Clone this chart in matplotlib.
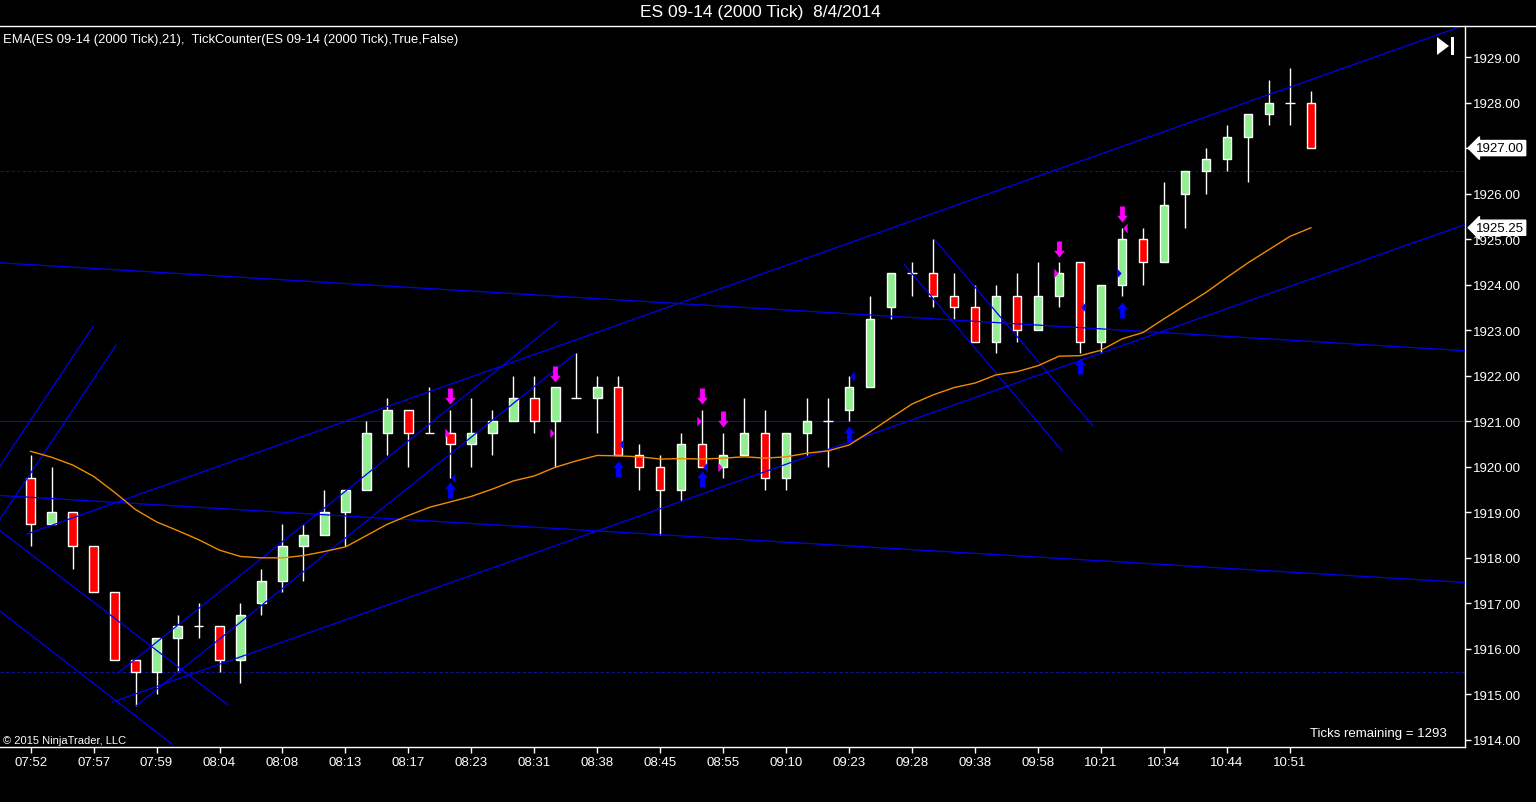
import matplotlib
matplotlib.use("Agg")
import matplotlib.pyplot as plt
import numpy as np
from matplotlib.path import Path
from matplotlib.lines import Line2D
from matplotlib.patches import Polygon, Rectangle
from matplotlib.transforms import blended_transform_factory

plt.rcParams["font.family"] = ["Liberation Sans", "DejaVu Sans"]

# --- data (bar index = 0..61) ---
opens = [1919.75, 1918.75, 1919.0, 1918.25, 1917.25, 1915.75, 1915.5, 1916.25, 1916.5, 1916.5,
         1915.75, 1917.0, 1917.5, 1918.25, 1918.5, 1919.0, 1919.5, 1920.75, 1921.25, 1920.75,
         1920.75, 1920.5, 1920.75, 1921.0, 1921.5, 1921.0, 1921.5, 1921.5, 1921.75, 1920.25,
         1920.0, 1919.5, 1920.5, 1920.0, 1920.25, 1920.75, 1919.75, 1920.75, 1921.0, 1921.25,
         1921.75, 1923.5, 1924.25, 1924.25, 1923.75, 1923.5, 1922.75, 1923.75, 1923.0, 1923.75,
         1924.5, 1922.75, 1924.0, 1925.0, 1924.5, 1926.0, 1926.5, 1926.75, 1927.25, 1927.75,
         1928.0, 1928.0]
highs = [1920.25, 1920.0, 1919.0, 1918.25, 1917.25, 1915.75, 1916.25, 1916.75, 1917.0, 1916.5,
         1917.0, 1917.75, 1918.75, 1918.75, 1919.5, 1919.5, 1921.0, 1921.5, 1921.25, 1921.75,
         1921.25, 1921.5, 1921.25, 1922.0, 1922.0, 1921.75, 1922.5, 1922.0, 1922.0, 1920.5,
         1920.25, 1920.75, 1921.25, 1920.75, 1921.5, 1921.25, 1920.75, 1921.5, 1921.5, 1922.0,
         1923.75, 1924.25, 1924.5, 1925.0, 1924.25, 1924.0, 1924.0, 1924.25, 1924.5, 1924.5,
         1924.5, 1924.0, 1925.25, 1925.25, 1926.25, 1926.5, 1927.0, 1927.5, 1927.75, 1928.5,
         1928.75, 1928.25]
lows = [1918.25, 1918.75, 1917.75, 1917.25, 1915.75, 1914.75, 1915.0, 1915.5, 1916.25, 1915.5,
        1915.25, 1916.75, 1917.25, 1917.5, 1918.5, 1918.25, 1919.5, 1920.25, 1920.0, 1920.75,
        1919.75, 1920.0, 1920.25, 1921.0, 1920.75, 1920.0, 1921.5, 1920.75, 1920.25, 1919.5,
        1918.5, 1919.25, 1920.0, 1919.75, 1920.25, 1919.5, 1919.5, 1920.25, 1920.0, 1921.0,
        1921.75, 1923.25, 1923.75, 1923.5, 1923.25, 1922.75, 1922.5, 1922.75, 1923.0, 1923.5,
        1922.5, 1922.5, 1923.75, 1924.0, 1924.5, 1925.25, 1926.0, 1926.5, 1926.25, 1927.5,
        1927.5, 1927.0]
closes = [1918.75, 1919.0, 1918.25, 1917.25, 1915.75, 1915.5, 1916.25, 1916.5, 1916.5, 1915.75,
          1916.75, 1917.5, 1918.25, 1918.5, 1919.0, 1919.5, 1920.75, 1921.25, 1920.75, 1920.75,
          1920.5, 1920.75, 1921.0, 1921.5, 1921.0, 1921.75, 1921.5, 1921.75, 1920.25, 1920.0,
          1919.5, 1920.5, 1920.0, 1920.25, 1920.75, 1919.75, 1920.75, 1921.0, 1921.0, 1921.75,
          1923.25, 1924.25, 1924.25, 1923.75, 1923.5, 1922.75, 1923.75, 1923.0, 1923.75, 1924.25,
          1922.75, 1924.0, 1925.0, 1924.5, 1925.75, 1926.5, 1926.75, 1927.25, 1927.75, 1928.0,
          1928.0, 1927.0]
ema21 = [1920.34, 1920.21, 1920.04, 1919.79, 1919.44, 1919.06, 1918.79, 1918.60, 1918.40, 1918.17,
         1918.03, 1918.00, 1918.00, 1918.05, 1918.14, 1918.24, 1918.49, 1918.74, 1918.93, 1919.11,
         1919.23, 1919.35, 1919.51, 1919.69, 1919.80, 1919.99, 1920.13, 1920.25, 1920.24, 1920.22,
         1920.17, 1920.18, 1920.17, 1920.19, 1920.22, 1920.19, 1920.22, 1920.30, 1920.35, 1920.48,
         1920.77, 1921.08, 1921.38, 1921.58, 1921.74, 1921.84, 1922.02, 1922.09, 1922.22, 1922.43,
         1922.44, 1922.56, 1922.81, 1922.95, 1923.25, 1923.54, 1923.83, 1924.16, 1924.48, 1924.77,
         1925.06, 1925.25]

time_labels = ["07:52", "07:57", "07:59", "08:04", "08:08", "08:13", "08:17", "08:23", "08:31",
               "08:38", "08:45", "08:55", "09:10", "09:23", "09:28", "09:38", "09:58", "10:21",
               "10:34", "10:44", "10:51"]

# drawn trend lines: (bar, price) start -> (bar, price) end
trend_x0 = [-1.46, -1.46, -0.19, 3.88, -1.46, -1.46, -1.46, -1.46, 4.16, 5.03, 41.61, 43.09]
trend_p0 = [1924.48, 1919.37, 1918.52, 1914.83, 1920.02, 1918.85, 1918.60, 1916.83, 1915.47, 1914.75, 1924.45, 1924.98]
trend_x1 = [68.34, 68.34, 68.34, 68.34, 2.97, 4.07, 9.40, 6.74, 25.08, 25.94, 49.14, 50.61]
trend_p1 = [1922.55, 1917.46, 1929.70, 1925.32, 1923.08, 1922.67, 1914.77, 1913.91, 1923.18, 1922.48, 1920.35, 1920.90]

# horizontal levels
level_prices = [1926.5, 1921.0, 1915.5]
level_dashed = [True, False, True]

# TickCounter signals
down_arrow_bars = [20, 25, 32, 33, 49, 52]
down_arrow_prices = [1921.55, 1922.04, 1921.55, 1921.05, 1924.78, 1925.55]
up_arrow_bars = [20, 28, 32, 39, 50, 52]
up_arrow_prices = [1919.49, 1919.95, 1919.73, 1920.72, 1922.21, 1923.44]
mag_right_bars = [20, 25, 32, 33, 49]
mag_right_prices = [1920.75, 1920.75, 1921.0, 1920.0, 1924.25]
mag_left_bars = [52]
mag_left_prices = [1925.25]
blue_left_bars = [20, 28, 32, 39, 50]
blue_left_prices = [1919.75, 1920.5, 1920.0, 1922.0, 1923.5]
blue_right_bars = [52]
blue_right_prices = [1924.25]

W, H = 1536, 803
fig = plt.figure(figsize=(W / 100, H / 100), dpi=100, facecolor="black")
ax = fig.add_axes([0, 1 - 748 / H, 1465 / W, (748 - 27) / H])
ax.set_facecolor("black")

x = np.arange(len(opens))
o = np.array(opens); c = np.array(closes); hi = np.array(highs); lo = np.array(lows)

# wicks
ax.vlines(x, lo, hi, color="white", lw=1.0, zorder=2)
# bodies
up = c > o
dn = c < o
body_w = 0.4
ax.bar(x[up], (c - o)[up], bottom=o[up], width=body_w, color="#90EE90", edgecolor="white", lw=1.0, zorder=3)
ax.bar(x[dn], (o - c)[dn], bottom=c[dn], width=body_w, color="#FF0000", edgecolor="white", lw=1.0, zorder=3)
doji = c == o
ax.hlines(c[doji], x[doji] - body_w / 2 - 0.03, x[doji] + body_w / 2 + 0.03, color="white", lw=1.0, zorder=3)

# levels
for p, dashed in zip(level_prices, level_dashed):
    ax.axhline(p, color="#10109A", lw=0.8, ls=(0, (3, 2)) if dashed else "-", zorder=1)

# trend lines
for a, b, cc, d in zip(trend_x0, trend_p0, trend_x1, trend_p1):
    ax.plot([a, cc], [b, d], color="#0000F0", lw=0.9, zorder=4)

# EMA
ax.plot(x, ema21, color="#F08C00", lw=1.0, zorder=4)

# signal markers
down_path = Path([(-0.15, 0.5), (0.15, 0.5), (0.15, -0.1), (0.31, -0.1), (0, -0.5), (-0.31, -0.1), (-0.15, -0.1), (-0.15, 0.5)], closed=True)
up_path = Path([(vx, -vy) for vx, vy in down_path.vertices], closed=True)
tri_right = Path([(-0.22, -0.5), (0.22, 0), (-0.22, 0.5), (-0.22, -0.5)], closed=True)
tri_left = Path([(0.22, -0.5), (-0.22, 0), (0.22, 0.5), (0.22, -0.5)], closed=True)

ax.plot(down_arrow_bars, down_arrow_prices, ls="none", marker=down_path, ms=11, mfc="#FF00FF", mec="#FF00FF", mew=0.4, zorder=5)
ax.plot(up_arrow_bars, up_arrow_prices, ls="none", marker=up_path, ms=11, mfc="#0000FF", mec="#0000FF", mew=0.4, zorder=5)
off = 0.14
ax.plot(np.array(mag_right_bars) - off, mag_right_prices, ls="none", marker=tri_right, ms=7, mfc="#FF00FF", mec="#FF00FF", mew=0, zorder=5)
ax.plot(np.array(mag_left_bars) + off, mag_left_prices, ls="none", marker=tri_left, ms=7, mfc="#FF00FF", mec="#FF00FF", mew=0, zorder=5)
ax.plot(np.array(blue_left_bars) + off, blue_left_prices, ls="none", marker=tri_left, ms=7, mfc="#0000FF", mec="#0000FF", mew=0, zorder=5)
ax.plot(np.array(blue_right_bars) - off, blue_right_prices, ls="none", marker=tri_right, ms=7, mfc="#0000FF", mec="#0000FF", mew=0, zorder=5)

# axes
ax.set_xlim(-1.458, 68.34)
ax.set_ylim(1913.846, 1929.681)
ax.set_xticks(np.arange(0, 61, 3))
ax.set_xticklabels(time_labels)
yt = np.arange(1914, 1930)
ax.set_yticks(yt)
ax.set_yticklabels([f"{v:.2f}" for v in yt])
ax.yaxis.tick_right()
ax.tick_params(axis="both", colors="white", labelsize=9.5, length=4, width=1, direction="out")
ax.tick_params(axis="y", pad=2)
ax.tick_params(axis="x", pad=2.5)
for side in ["left", "top"]:
    ax.spines[side].set_visible(False)
for side in ["right", "bottom"]:
    ax.spines[side].set_color("white")
    ax.spines[side].set_linewidth(1.0)

# price flags on the right axis
tr = blended_transform_factory(ax.transAxes, ax.transData)
for val in [closes[-1], ema21[-1]]:
    ax.annotate(f"{val:.2f}", xy=(1.0, val), xycoords=tr, xytext=(8, 0), textcoords="offset points",
                ha="left", va="center", fontsize=9.5, color="black", annotation_clip=False,
                bbox=dict(boxstyle="larrow,pad=0.12", fc="white", ec="white"), zorder=10)

# frame line under title
fig.add_artist(Line2D([0, 1], [1 - 27 / H] * 2, color="white", lw=1.0, transform=fig.transFigure))

fig.text(760 / W, 1 - 12 / H, "ES 09-14 (2000 Tick)  8/4/2014", color="white", fontsize=12.5, ha="center", va="center")
fig.text(3 / W, 1 - 40 / H, "EMA(ES 09-14 (2000 Tick),21),  TickCounter(ES 09-14 (2000 Tick),True,False)",
         color="white", fontsize=9.4, ha="left", va="center")
fig.text(3 / W, 1 - 741 / H, "\u00a9 2015 NinjaTrader, LLC", color="white", fontsize=8, ha="left", va="center")
fig.text(1447 / W, 1 - 734 / H, "Ticks remaining = 1293", color="white", fontsize=9.5, ha="right", va="center")

# scroll-to-end icon
def px(xp, yp):
    return (xp / W, 1 - yp / H)

fig.add_artist(Polygon([px(1437, 38), px(1449, 47), px(1437, 56)], closed=True, fc="white", ec="none", transform=fig.transFigure))
fig.add_artist(Rectangle(px(1451, 56), 3 / W, 18 / H, fc="white", ec="none", transform=fig.transFigure))

fig.savefig("out.png", dpi=100, facecolor="black")
